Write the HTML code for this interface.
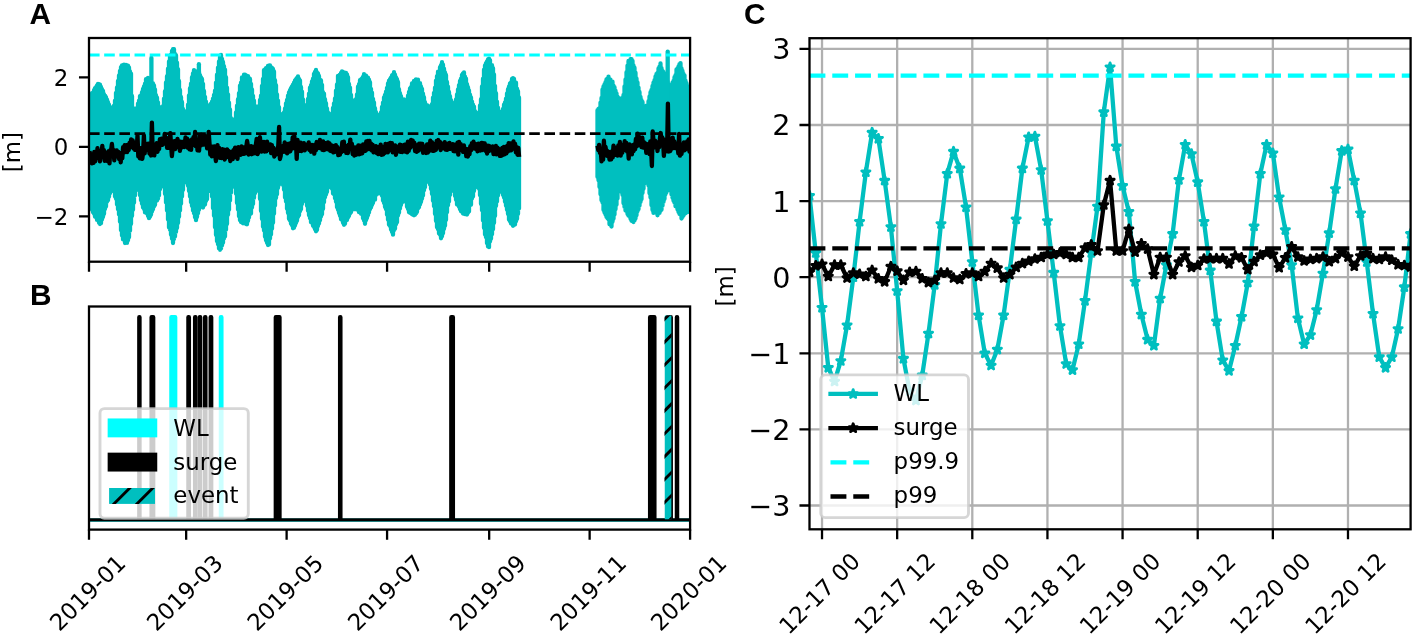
<!DOCTYPE html>
<html lang="en"><head><meta charset="utf-8"><title>Water level and surge</title>
<style>html,body{margin:0;padding:0;background:#fff}svg{display:block;will-change:transform}</style></head>
<body>
<svg width="1417" height="636" viewBox="0 0 1417 636">
<rect width="1417" height="636" fill="#fff"/>
<defs>
<clipPath id="ca"><rect x="89" y="38" width="601.1" height="223.7"/></clipPath>
</defs>
<g clip-path="url(#ca)">
<path d="M89,98.35V208.59M90,95.72V206.41M91,95V207.1M92,93.11V209.81M93,92.77V212.37M94,90.17V213.66M95,88.04V216.65M96,87.08V217.38M97,85.47V219.92M98,84V219.1M99,84.27V222.85M100,84.69V224.12M101,86.98V223.19M102,89.24V219.6M103,90.85V217.04M104,94.25V213.91M105,95.56V209.05M106,97.03V206.56M107,99.61V201.79M108,102.15V200.14M109,104.67V196.85M110,106.94V193.29M111,109.11V191.53M112,109.17V188.88M113,109.99V190.46M114,105.64V191M115,100.54V196.5M116,92.86V198.81M117,87.51V204.56M118,80.88V209.36M119,75.5V214.41M120,70.8V221.71M121,67.11V230.13M122,65.48V235.56M123,66.25V239.46M124,64.75V239.04M125,66.71V243.03M126,64.92V242.17M127,65.84V242.92M128,65.74V240.33M129,67.51V237.27M130,71.38V230.66M131,73.6V224.09M132,95.9V215.92M133,108.26V209.74M134,110V202.66M135,110.78V195.46M136,108.5V190.08M137,108.25V186.5M138,103.57V187.42M139,100.56V190.37M140,96.08V195.31M141,95.39V200.19M142,92.21V203.77M143,88.88V207.5M144,86.3V209.04M145,83.74V212.42M146,79.19V211.27M147,78.92V213.38M148,77.95V215.94M149,80.18V218.21M150,79.01V216.66M151,82.66V214.77M152,83.74V211.52M153,83.39V209.34M154,85.51V206.39M155,89.43V204.89M156,95.15V200.33M157,97.7V200.61M158,102.33V198.66M159,106.59V195.52M160,108.28V189.27M161,110.63V185.67M162,107.8V181.97M163,106.09V182.02M164,98.55V186.95M165,91.19V193.96M166,82.42V202.42M167,76.22V210.55M168,68.75V219.55M169,61.38V227.44M170,56.25V229.77M171,54.68V234.74M172,51.02V238.7M173,49.27V242.98M174,49.23V239.1M175,53.94V236.46M176,55.23V231.88M177,62.68V228.08M178,69.04V223.08M179,80.94V216.83M180,89.88V210.43M181,96.94V203.64M182,102V196.45M183,109.01V189.91M184,111.9V183.11M185,115.46V180.88M186,114.89V179.4M187,111.01V182.14M188,104.66V185.75M189,95.29V191.07M190,88.24V196.59M191,83.72V202.13M192,77.17V205.95M193,73.37V210.39M194,70.07V213.37M195,71.87V217.36M196,71.98V220.15M197,71.93V217.05M198,70.94V213.25M199,71.65V209.66M200,75.03V206.18M201,77.37V206.48M202,78.92V206.48M203,83.87V207.54M204,90.88V205.29M205,96.86V204.49M206,101.76V200.95M207,106.09V199.25M208,107.76V191.35M209,108.24V189.44M210,104.98V186.82M211,103.72V191.15M212,101.76V196.56M213,98.56V208.16M214,94.99V215.86M215,90.64V227.37M216,82.61V235.01M217,74.67V241.15M218,67.58V244.35M219,61.51V248.45M220,57.05V249.78M221,55.01V248.48M222,58.87V245.42M223,62.01V242.68M224,66.13V238.46M225,69.58V236.48M226,77.19V229.72M227,87.68V224.11M228,94.31V214.83M229,102.74V209.66M230,109.38V200.45M231,118.24V192.67M232,120.09V186.72M233,123.35V183.81M234,121.33V183.49M235,118.98V187.15M236,112.5V193.7M237,105.77V202.98M238,99.2V209.52M239,93.07V216.35M240,85.59V220.18M241,82.74V222.01M242,77.37V221.64M243,77.97V223.29M244,74.74V222.87M245,74.67V223.38M246,75.5V223.98M247,77.07V224.29M248,76.05V220.96M249,78.22V217.56M250,78.92V214.14M251,83.82V213.6M252,89.49V207.6M253,95.81V203.96M254,100.74V197.88M255,105.81V193.16M256,106.83V186.88M257,108.39V187.22M258,107.44V185.31M259,105.95V191.3M260,99.91V199.02M261,95.76V211.12M262,85.78V218.98M263,78.97V226.7M264,70.07V230.49M265,69.46V236.87M266,68.12V240.31M267,67.53V242.82M268,65.86V245M269,65.75V244.53M270,65.51V238.52M271,67.18V234.5M272,67.85V228.69M273,68.88V222.86M274,71.47V213.67M275,80.15V205.5M276,85.13V198.03M277,94.38V194.33M278,100.6V187.97M279,107.1V184.77M280,113.66V183.04M281,116.26V181.41M282,116.32V180.69M283,116.04V185.01M284,112.51V189.65M285,108.38V197.51M286,103.33V201.54M287,99.93V208.73M288,95.71V213M289,92.32V218.89M290,90.17V220.52M291,88.04V223.65M292,86.31V225.24M293,84.71V228.33M294,82.64V227.84M295,80.38V225.53M296,79.18V222.95M297,77.79V220.77M298,76.41V216.95M299,78.84V215.24M300,80.41V211.22M301,86.98V209.13M302,91.7V204.11M303,99.29V201.47M304,104.86V199.13M305,107.5V199.73M306,106.77V200.56M307,105.02V205.85M308,98.99V210.66M309,93.58V215.34M310,87.56V218.18M311,85.19V222.32M312,81.34V222.79M313,78.67V225.78M314,73.84V227.1M315,71.79V229.13M316,69.92V231.35M317,72.31V229.89M318,73.48V226.11M319,75.89V223.46M320,79.67V220.31M321,80.5V216.51M322,84.85V214.35M323,92.23V208.92M324,93.7V202.13M325,99.21V197.3M326,103.13V194.49M327,108.52V191.93M328,112.46V187.84M329,117.7V185.53M330,117.1V184.7M331,117.29V186.62M332,113.32V188.74M333,108.01V193.51M334,103.35V194.28M335,98.48V198.3M336,90.56V201.82M337,84.51V207.13M338,75.85V209.85M339,77.04V213.05M340,74.56V215.79M341,72.95V219.23M342,71.42V219.95M343,72.81V222.81M344,72.34V224.77M345,73.26V223.86M346,72.92V220.61M347,74.37V220.04M348,77.04V217.62M349,83.88V215.97M350,87.62V213.41M351,94.84V212.19M352,99.93V209.17M353,104.5V209.43M354,104.26V208.16M355,105.08V209.12M356,99.06V209.06M357,94.31V209.5M358,86.71V209.01M359,84.26V212.13M360,80.13V211.66M361,79.33V213.87M362,78.33V214.09M363,76.99V218.33M364,74.17V220.53M365,75.08V223.73M366,75.6V220.2M367,77.2V217.99M368,77.71V215.19M369,79.77V212.39M370,82.22V209.14M371,88.79V207.4M372,92.7V204.91M373,98.79V202.93M374,102.43V199.35M375,108.27V199.64M376,112.15V194.89M377,115.52V192.83M378,116.06V193.57M379,116.93V193.39M380,114.38V192.78M381,112.41V193.21M382,106.9V195.66M383,102.59V200.58M384,97.42V203.09M385,94.78V207.04M386,91.69V209.17M387,87.79V214.67M388,83.43V219.64M389,80.68V224.64M390,79.21V226.09M391,77.53V229.59M392,75.52V231.93M393,74.54V234.65M394,72.19V230.21M395,74.71V228.75M396,77.32V224.23M397,79.12V222.37M398,81.96V215.49M399,89.27V212.76M400,93.16V208.62M401,96.12V205.08M402,99.16V202.39M403,101.5V201.39M404,99.47V199.97M405,101.34V200.86M406,100.35V201.92M407,100.34V206.82M408,95.68V209.02M409,91.99V212.17M410,88.47V212.92M411,87.1V213.28M412,83.47V214.23M413,82.96V214.81M414,80.97V215.24M415,80.97V214.81M416,79.45V213.45M417,80.79V212.1M418,79.68V208.39M419,82.78V207.16M420,83.07V204.47M421,86.51V202.12M422,88.82V198.73M423,93.69V195.57M424,97.21V190.23M425,102.21V187.22M426,105.31V181.3M427,105.07V181.74M428,105.97V179.55M429,109.32V181.11M430,108.81V184.49M431,108.15V189M432,104.08V194.11M433,97.55V200.79M434,92.87V206.15M435,87.75V214.01M436,80.62V221.04M437,76.07V227.28M438,71.76V229.21M439,71.91V233.48M440,67.14V234.66M441,65.14V238.24M442,62.19V236.37M443,64.63V233.27M444,68.66V228.9M445,72.44V225.79M446,74.94V219.91M447,82V212.16M448,86.71V205.31M449,91.98V201.52M450,96.14V194.89M451,100.08V190.84M452,102.29V188.87M453,104.39V190.87M454,106.24V189.66M455,103.86V195.96M456,99.48V199.87M457,94.45V204.52M458,89.36V204.6M459,85.11V206.7M460,80.95V209.15M461,78.62V211.22M462,74.81V212.01M463,73.28V213.58M464,72.49V213.2M465,76.54V214.22M466,78.71V213.79M467,84.12V214.59M468,87.26V212.78M469,90.39V211.43M470,94.7V205.11M471,97.52V204.83M472,101.61V198.54M473,104.72V196.45M474,106.61V191.08M475,111.03V187.78M476,113.12V184.27M477,115.26V183.43M478,115.03V183.22M479,112.51V188.75M480,105.4V195.16M481,99.22V204.12M482,86.52V210.29M483,78.76V220.42M484,69.75V227.91M485,65.41V234.5M486,63.1V237.16M487,61.44V243.19M488,59.47V246.55M489,58.64V247.16M490,60.1V241.5M491,65.25V238.79M492,65.26V234.29M493,68.07V229.35M494,74.45V222.88M495,85.86V215.93M496,93.25V205.9M497,101.64V201.62M498,107.66V195.57M499,111.34V191.43M500,112.25V191.38M501,112.24V190.95M502,111.4V192.35M503,108.83V194.94M504,104.76V197.6M505,102.28V201.8M506,98.58V205.87M507,93.41V209.83M508,89.27V214.05M509,86.43V219.7M510,83.31V221.3M511,82.46V223.58M512,78.98V223.86M513,78.1V225.73M514,78.82V223.23M515,82.15V224.54M516,82.65V221.32M517,88.6V219.04M518,91.15V214.12M519,97.5V208.43" fill="none" stroke="#00bfbf" stroke-width="4.3" stroke-linecap="round"/>
<path d="M597.5,110.2V177.08M598.5,108.89V180.29M599.5,108.23V186.97M600.5,102.56V194.37M601.5,97.94V200.21M602.5,89.47V202.56M603.5,86.42V209.91M604.5,84.41V212.55M605.5,82.17V214.48M606.5,79.31V217.08M607.5,78.58V218.35M608.5,76.69V219.62M609.5,79.12V224.36M610.5,79.71V225.01M611.5,82V226.53M612.5,81.69V221.74M613.5,85.67V218.86M614.5,87.16V214.5M615.5,90.54V209.15M616.5,93.28V204.71M617.5,96.75V198.55M618.5,97.85V189.94M619.5,100.35V189.62M620.5,99.02V188.75M621.5,99.82V191.97M622.5,97.9V195.07M623.5,94.98V203.23M624.5,86.42V206.92M625.5,79.48V210.62M626.5,72.13V210.46M627.5,65.6V213.98M628.5,60.99V215.64M629.5,60.99V216.18M630.5,59.27V218.75M631.5,59.04V220.8M632.5,60.79V219.25M633.5,65.5V222.08M634.5,67.67V220.5M635.5,72.75V218.62M636.5,78.5V215.34M637.5,82.42V211.32M638.5,87.54V209.18M639.5,91.94V205.7M640.5,96.79V202M641.5,100.21V199.16M642.5,101.94V192.89M643.5,107.23V188.86M644.5,106.86V183.61M645.5,107.08V181.54M646.5,105.71V180.45M647.5,106.76V182.38M648.5,101.21V185.45M649.5,96.46V193.27M650.5,92.15V197.54M651.5,89.78V205.19M652.5,85.95V210.05M653.5,82.6V212.95M654.5,80.13V210.71M655.5,76.47V212.46M656.5,73.93V212.55M657.5,72.91V215.31M658.5,68.46V212.9M659.5,66.54V212.96M660.5,63.43V210.65M661.5,68.11V209.74M662.5,70.82V205.68M663.5,71.99V201.9M664.5,73.34V199.09M665.5,77.25V194.37M666.5,78.28V192.36M667.5,81.63V190.34M668.5,84.32V189M669.5,85.72V190.21M670.5,86.23V189.68M671.5,85.44V194.45M672.5,82.72V197.79M673.5,80.85V200.87M674.5,77.22V202.63M675.5,75.23V206.32M676.5,69.4V207.07M677.5,68.46V209.45M678.5,66.46V211.93M679.5,64.06V214.12M680.5,63.08V214.19M681.5,68.33V218.48M682.5,70.88V216.91M683.5,73.94V215.46M684.5,75.35V214.11M685.5,80.7V213.28M686.5,83.26V212.1M687.5,86.21V212.19M688.5,87.91V210.51M689.5,91.35V210.75M690.5,92.12V209.71M691.5,94.87V209.74" fill="none" stroke="#00bfbf" stroke-width="4.3" stroke-linecap="round"/>
<path d="M151.4,100 V57.9" stroke="#00bfbf" stroke-width="4.3" stroke-linecap="round" fill="none"/>
<path d="M198.9,100 V64.2" stroke="#00bfbf" stroke-width="4.3" stroke-linecap="round" fill="none"/>
<path d="M667.7,100 V51.6" stroke="#00bfbf" stroke-width="4.3" stroke-linecap="round" fill="none"/>
<polyline points="89.5,151.13 90.3,156.68 91.1,154.07 91.9,163.32 92.7,154.14 93.5,162.86 94.3,151.99 95.1,161.43 95.9,154.19 96.7,156.87 97.5,148.09 98.3,157.94 99.1,151.8 99.9,161.29 100.7,151.11 101.5,156.54 102.3,145.88 103.1,157.65 103.9,150.1 104.7,160.78 105.5,152.96 106.3,157.61 107.1,152.51 107.9,161.2 108.7,151.23 109.5,163.34 110.3,150.18 111.1,150.43 111.9,143.9 112.7,152.49 113.5,149.97 114.3,160.34 115.1,150.67 115.9,154.92 116.7,150.34 117.5,156.46 118.3,151.97 119.1,159.07 119.9,154.84 120.7,162.28 121.5,152.97 122.3,158.45 123.1,147.21 123.9,152.69 124.7,145.19 125.5,150.94 126.3,145.21 127.1,152.12 127.9,145.73 128.7,150.07 129.5,142.91 130.3,147.22 131.1,139.37 131.9,146.32 132.7,140.35 133.5,148.42 134.3,142.67 135.1,149.89 135.9,143.92 136.7,149.31 137.5,135.31 138.3,156.53 139.1,151.65 139.9,158.34 140.7,148.05 141.5,153.59 142.3,158.83 143.1,152.22 143.9,135.49 144.7,153.24 145.5,144.29 146.3,149.29 147.1,143.84 147.9,149.95 148.7,143.75 149.5,153.69 150.3,149.16 151.1,155.48 151.9,122.6 152.7,151.72 153.5,145.96 154.3,155.44 155.1,146.74 155.9,151.31 156.7,143.12 157.5,151.88 158.3,144.23 159.1,149.13 159.9,139.07 160.7,145.32 161.5,138.62 162.3,144.83 163.1,139.36 163.9,143.53 164.7,133.95 165.5,143.64 166.3,137.97 167.1,147.94 167.9,140.43 168.7,147.85 169.5,143.16 170.3,133.26 171.1,145.33 171.9,156.13 172.7,147.3 173.5,149.41 174.3,141.25 175.1,149.17 175.9,142 176.7,147.09 177.5,138.9 178.3,145.46 179.1,142.1 179.9,150.88 180.7,141.67 181.5,147.54 182.3,142.48 183.1,147 183.9,141.48 184.7,146.97 185.5,137.31 186.3,146.31 187.1,138.65 187.9,147.72 188.7,142.13 189.5,149.23 190.3,140.29 191.1,149.9 191.9,139.49 192.7,144.32 193.5,137.25 194.3,144.93 195.1,132 195.9,146.41 196.7,141.54 197.5,150.4 198.3,143.29 199.1,150.56 199.9,135.3 200.7,145.61 201.5,134.77 202.3,142.12 203.1,136.67 203.9,144.69 204.7,136 205.5,144.46 206.3,138.15 207.1,148.25 207.9,143.18 208.7,132 209.5,143.36 210.3,154.65 211.1,149.18 211.9,156.29 212.7,146.74 213.5,154.1 214.3,146.43 215.1,154.72 215.9,161.02 216.7,153.62 217.5,145.04 218.3,153.35 219.1,147.93 219.9,157.84 220.7,150.62 221.5,158.1 222.3,149.17 223.1,156.98 223.9,149.72 224.7,159.5 225.5,154.16 226.3,157.38 227.1,149.3 227.9,153.08 228.7,150.95 229.5,153.97 230.3,161 231.1,154.49 231.9,151.6 232.7,159.2 233.5,150.19 234.3,152.35 235.1,147.69 235.9,157.16 236.7,147.98 237.5,158.81 238.3,147.08 239.1,154.24 239.9,148.39 240.7,154.81 241.5,146.3 242.3,153.76 243.1,148.64 243.9,153.92 244.7,147.21 245.5,153.45 246.3,146.84 247.1,140.97 247.9,146.13 248.7,154.56 249.5,147.55 250.3,152.62 251.1,146.12 251.9,154.23 252.7,146.94 253.5,153.27 254.3,146.54 255.1,153.24 255.9,144.65 256.7,138.82 257.5,154.22 258.3,152.06 259.1,146.54 259.9,137.17 260.7,143.84 261.5,151.6 262.3,142.24 263.1,150.02 263.9,141.91 264.7,151.52 265.5,143.93 266.3,151.42 267.1,141.69 267.9,147.52 268.7,144.29 269.5,150.02 270.3,144.37 271.1,153.12 271.9,145.15 272.7,153.44 273.5,147.91 274.3,156.51 275.1,149.91 275.9,154.58 276.7,149.42 277.5,152.38 278.3,145.34 279.1,127 279.9,159 280.7,155.94 281.5,146.62 282.3,151.4 283.1,145.95 283.9,151.75 284.7,142.48 285.5,148.08 286.3,144.24 287.1,153.39 287.9,144.01 288.7,151.94 289.5,143.7 290.3,151.37 291.1,142.81 291.9,148.85 292.7,137.4 293.5,148.11 294.3,135.57 295.1,145.84 295.9,141.15 296.7,158.81 297.5,139.82 298.3,148.91 299.1,143.18 299.9,150.87 300.7,142.55 301.5,151.08 302.3,144.32 303.1,149.16 303.9,143.22 304.7,150.38 305.5,144.94 306.3,148.77 307.1,144.73 307.9,146.68 308.7,142.44 309.5,149.94 310.3,146.42 311.1,151.71 311.9,144.85 312.7,148.96 313.5,145.58 314.3,153.67 315.1,144.55 315.9,150.27 316.7,142.02 317.5,146.88 318.3,142.4 319.1,148.06 319.9,139.9 320.7,146.84 321.5,142.15 322.3,149.73 323.1,141.44 323.9,150.18 324.7,142.91 325.5,149.49 326.3,145.06 327.1,147.9 327.9,142.34 328.7,149.64 329.5,143.4 330.3,150.82 331.1,145.06 331.9,151.3 332.7,145.98 333.5,152.37 334.3,146.01 335.1,151.82 335.9,145.24 336.7,151.76 337.5,147.24 338.3,155.21 339.1,149.3 339.9,154.71 340.7,148.7 341.5,152.19 342.3,142.23 343.1,149.87 343.9,141.72 344.7,151.16 345.5,145.91 346.3,152.95 347.1,146.98 347.9,153.08 348.7,144.72 349.5,147.85 350.3,139.54 351.1,149.63 351.9,143.76 352.7,154.05 353.5,148.11 354.3,155.58 355.1,147.49 355.9,154.83 356.7,149.1 357.5,152.8 358.3,145.37 359.1,154.31 359.9,145.58 360.7,153.84 361.5,145.84 362.3,153.33 363.1,144.44 363.9,148.7 364.7,145 365.5,150.89 366.3,141.39 367.1,149.53 367.9,140.9 368.7,147.1 369.5,140.92 370.3,149.31 371.1,143.72 371.9,150.38 372.7,144.96 373.5,152.39 374.3,146.95 375.1,151.02 375.9,146.21 376.7,152.9 377.5,147.24 378.3,154.18 379.1,148.41 379.9,152.51 380.7,144.55 381.5,154.79 382.3,149.12 383.1,154.48 383.9,147.01 384.7,153.13 385.5,143.91 386.3,149.68 387.1,147.75 387.9,152.33 388.7,143.75 389.5,150.34 390.3,142.93 391.1,149.6 391.9,143.17 392.7,152.28 393.5,146.28 394.3,151.57 395.1,145.46 395.9,154.87 396.7,148.04 397.5,151.69 398.3,146.43 399.1,151.22 399.9,144.69 400.7,151.93 401.5,145.17 402.3,151.99 403.1,146.11 403.9,150.29 404.7,144.56 405.5,151.69 406.3,144.31 407.1,152.41 407.9,141.74 408.7,150.93 409.5,144.08 410.3,147.69 411.1,139.91 411.9,144.67 412.7,140.66 413.5,146.11 414.3,142.63 415.1,150.98 415.9,147.24 416.7,151.79 417.5,145.09 418.3,150.86 419.1,143.69 419.9,149.52 420.7,143.7 421.5,148.52 422.3,143.89 423.1,152.84 423.9,146.28 424.7,151.47 425.5,146.48 426.3,152.99 427.1,144.31 427.9,152.51 428.7,144.04 429.5,150.9 430.3,140.76 431.1,147.76 431.9,142.02 432.7,150.93 433.5,144.01 434.3,150.73 435.1,144.54 435.9,149.79 436.7,140.97 437.5,147.56 438.3,140.02 439.1,147.26 439.9,141.76 440.7,150.02 441.5,143.65 442.3,148.22 443.1,143.48 443.9,148.36 444.7,142.2 445.5,149.57 446.3,144.71 447.1,149.85 447.9,143.67 448.7,148.05 449.5,142.82 450.3,148.92 451.1,144.62 451.9,148.66 452.7,144.08 453.5,151.01 454.3,144.58 455.1,151.26 455.9,145.06 456.7,149.92 457.5,142.78 458.3,154.6 459.1,141.95 459.9,147.65 460.7,144.19 461.5,149.83 462.3,146.06 463.1,151.89 463.9,145.3 464.7,150.75 465.5,148.65 466.3,156.21 467.1,149.08 467.9,156.55 468.7,150.04 469.5,154.17 470.3,146.18 471.1,150.17 471.9,143.28 472.7,148.72 473.5,141.73 474.3,147.5 475.1,143.82 475.9,149.02 476.7,144.53 477.5,151.33 478.3,143.72 479.1,150.52 479.9,143.99 480.7,150.48 481.5,142.87 482.3,150.13 483.1,143.02 483.9,147.68 484.7,143.36 485.5,150.84 486.3,145.81 487.1,153.62 487.9,145.57 488.7,151.14 489.5,146 490.3,148.99 491.1,147.17 491.9,150.36 492.7,146.4 493.5,154.01 494.3,147.86 495.1,154.04 495.9,145.86 496.7,154.37 497.5,147.59 498.3,153.19 499.1,149.22 499.9,155.91 500.7,150.09 501.5,155.71 502.3,147.86 503.1,154.86 503.9,146.85 504.7,154.3 505.5,148.54 506.3,153.45 507.1,145.98 507.9,151.54 508.7,143.04 509.5,150.02 510.3,143.34 511.1,150.4 511.9,144.74 512.7,148.64 513.5,141.43 514.3,148.4 515.1,143.93 515.9,152.23 516.7,147.19 517.5,154.47 518.3,147.84 519.1,156.84" fill="none" stroke="#000" stroke-width="4.3" stroke-linejoin="round" stroke-linecap="butt"/>
<polyline points="597.5,145.54 598.3,150.08 599.1,144.92 599.9,152.8 600.7,149.09 601.5,161.37 602.3,151.16 603.1,159.66 603.9,140.75 604.7,155.48 605.5,146.83 606.3,152.36 607.1,150.67 607.9,156.15 608.7,151.98 609.5,159.53 610.3,152.29 611.1,159.48 611.9,151.36 612.7,157.45 613.5,145.67 614.3,154.93 615.1,150.95 615.9,154.71 616.7,147.64 617.5,155.58 618.3,145.39 619.1,153.85 619.9,142.02 620.7,155.69 621.5,145.81 622.3,152.8 623.1,144.83 623.9,150.04 624.7,141.2 625.5,148.58 626.3,142.83 627.1,151.44 627.9,146.82 628.7,158.55 629.5,144.47 630.3,153.67 631.1,146.33 631.9,154.28 632.7,145.1 633.5,151.23 634.3,144.46 635.1,149.36 635.9,138.86 636.7,146.45 637.5,133.54 638.3,135.12 639.1,137.45 639.9,145.21 640.7,137.95 641.5,147.13 642.3,137.63 643.1,147.49 643.9,142.23 644.7,147.89 645.5,143.46 646.3,152.91 647.1,144.05 647.9,151.29 648.7,147.15 649.5,154.02 650.3,141.43 651.1,150.25 651.9,166 652.7,131.5 653.5,140.71 654.3,145.53 655.1,140.71 655.9,147.47 656.7,142.05 657.5,150.97 658.3,143.09 659.1,147.41 659.9,138.37 660.7,133.03 661.5,143.27 662.3,137.49 663.1,142.2 663.9,155.86 664.7,139.83 665.5,150.62 666.3,142.46 667.1,151.39 667.9,103.6 668.7,151.52 669.5,143.65 670.3,150.99 671.1,144.19 671.9,148.75 672.7,137.64 673.5,147.55 674.3,141.34 675.1,148.02 675.9,144.39 676.7,148.36 677.5,144.78 678.3,153.38 679.1,133.87 679.9,155.72 680.7,145.13 681.5,154.06 682.3,147.07 683.1,148.59 683.9,142.34 684.7,150.32 685.5,143.76 686.3,148.92 687.1,141.52 687.9,146.92 688.7,139.29 689.5,151.5 690.3,141.38 691.1,145.56 691.9,138.59" fill="none" stroke="#000" stroke-width="4.3" stroke-linejoin="round" stroke-linecap="butt"/>
<path d="M89,55 H690.1" stroke="#00ffff" stroke-width="2.87" stroke-dasharray="10.6 4.58" fill="none"/>
<path d="M89,133.6 H690.1" stroke="#000" stroke-width="2.87" stroke-dasharray="10.6 4.58" fill="none"/>
</g>
<path d="M89,261.7 v10.03 M186.16,261.7 v10.03 M286.62,261.7 v10.03 M387.08,261.7 v10.03 M489.18,261.7 v10.03 M589.64,261.7 v10.03 M690.1,261.7 v10.03 M89,77.3 h-10.03 M89,146.8 h-10.03 M89,216.3 h-10.03" stroke="#000" stroke-width="2.29" fill="none"/>
<rect x="89" y="38" width="601.1" height="223.7" fill="none" stroke="#000" stroke-width="2.29" stroke-linejoin="miter"/>
<text x="68.34" y="85.7" font-family='"DejaVu Sans", "Liberation Sans", sans-serif' font-size="22.92" text-anchor="end">2</text>
<text x="68.34" y="155.2" font-family='"DejaVu Sans", "Liberation Sans", sans-serif' font-size="22.92" text-anchor="end">0</text>
<text x="68.34" y="224.7" font-family='"DejaVu Sans", "Liberation Sans", sans-serif' font-size="22.92" text-anchor="end">−2</text>
<text transform="translate(20.4,152.1) rotate(-90)" font-family='"DejaVu Sans", "Liberation Sans", sans-serif' font-size="22.92" text-anchor="middle">[m]</text>
<text x="29.6" y="23.8" font-family='"Liberation Sans", "DejaVu Sans", sans-serif' font-size="29.8" font-weight="bold">A</text>
<clipPath id="cb"><rect x="89" y="306.5" width="601.1" height="223.1"/></clipPath>
<g clip-path="url(#cb)">
<path d="M89,520.2 H690.1" stroke="#00ffff" stroke-width="3.3"/>
<path d="M171.4,519.6 V317.2 H175.2 V519.6" fill="#00ffff" stroke="#00ffff" stroke-width="4.3" stroke-linejoin="round"/>
<path d="M220.9,519.6 V317.2 H221.4 V519.6" fill="#00ffff" stroke="#00ffff" stroke-width="4.3" stroke-linejoin="round"/>
<path d="M89,519.85 H690.1" stroke="#000" stroke-width="3.3"/>
<path d="M139.3,519.6 V317.2 H139.5 V519.6" fill="#000" stroke="#000" stroke-width="4.3" stroke-linejoin="round"/>
<path d="M151.6,519.6 V317.2 H153.2 V519.6" fill="#000" stroke="#000" stroke-width="4.3" stroke-linejoin="round"/>
<path d="M188.4,519.6 V317.2 H188.9 V519.6" fill="#000" stroke="#000" stroke-width="4.3" stroke-linejoin="round"/>
<path d="M195.1,519.6 V317.2 H195.5 V519.6" fill="#000" stroke="#000" stroke-width="4.3" stroke-linejoin="round"/>
<path d="M199.8,519.6 V317.2 H200.2 V519.6" fill="#000" stroke="#000" stroke-width="4.3" stroke-linejoin="round"/>
<path d="M205.1,519.6 V317.2 H205.4 V519.6" fill="#000" stroke="#000" stroke-width="4.3" stroke-linejoin="round"/>
<path d="M210.7,519.6 V317.2 H211.2 V519.6" fill="#000" stroke="#000" stroke-width="4.3" stroke-linejoin="round"/>
<path d="M275.8,519.6 V317.2 H279.5 V519.6" fill="#000" stroke="#000" stroke-width="4.3" stroke-linejoin="round"/>
<path d="M340.1,519.6 V317.2 H340.4 V519.6" fill="#000" stroke="#000" stroke-width="4.3" stroke-linejoin="round"/>
<path d="M451.3,519.6 V317.2 H452.9 V519.6" fill="#000" stroke="#000" stroke-width="4.3" stroke-linejoin="round"/>
<path d="M650.1,519.6 V317.2 H654.4 V519.6" fill="#000" stroke="#000" stroke-width="4.3" stroke-linejoin="round"/>
<path d="M670.6,519.6 V317.2 H670.8 V519.6" fill="#000" stroke="#000" stroke-width="4.3" stroke-linejoin="round"/>
<path d="M676.9,519.6 V317.2 H677.1 V519.6" fill="#000" stroke="#000" stroke-width="4.3" stroke-linejoin="round"/>
<clipPath id="ce"><rect x="664.5" y="315.3" width="7.1" height="204.3" rx="1.2"/></clipPath>
<g clip-path="url(#ce)"><rect x="664.5" y="315.3" width="7.1" height="204.3" fill="#00bfbf"/>
<path d="M656.05,327.7 L680.05,303.7 M656.05,350.6 L680.05,326.6 M656.05,373.5 L680.05,349.5 M656.05,396.4 L680.05,372.4 M656.05,419.3 L680.05,395.3 M656.05,442.2 L680.05,418.2 M656.05,465.1 L680.05,441.1 M656.05,488 L680.05,464 M656.05,510.9 L680.05,486.9 M656.05,533.8 L680.05,509.8" stroke="#000" stroke-width="2.87" fill="none"/></g>
</g>
<rect x="100" y="408.6" width="148.3" height="109.6" rx="4.4" fill="#fff" fill-opacity="0.8" stroke="#ccc" stroke-opacity="0.8" stroke-width="2.87"/>
<rect x="109.8" y="420.6" width="45.3" height="14.6" fill="#00ffff" stroke="#00ffff" stroke-width="4.3" stroke-linejoin="miter"/>
<rect x="109.8" y="454.8" width="45.3" height="14.6" fill="#000" stroke="#000" stroke-width="4.3" stroke-linejoin="miter"/>
<clipPath id="cl"><rect x="109.1" y="488" width="45.9" height="15.9"/></clipPath>
<g clip-path="url(#cl)"><rect x="109.1" y="488" width="45.9" height="15.9" fill="#00bfbf"/>
<path d="M111.8,506 l22,-22 M134.8,506 l22,-22 M88.8,506 l22,-22" stroke="#000" stroke-width="2.87"/></g>
<text x="173.3" y="435.7" font-family='"DejaVu Sans", "Liberation Sans", sans-serif' font-size="22.92">WL</text>
<text x="173.3" y="469.6" font-family='"DejaVu Sans", "Liberation Sans", sans-serif' font-size="22.92">surge</text>
<text x="173.3" y="503.4" font-family='"DejaVu Sans", "Liberation Sans", sans-serif' font-size="22.92">event</text>
<path d="M89,529.6 v10.03 M186.16,529.6 v10.03 M286.62,529.6 v10.03 M387.08,529.6 v10.03 M489.18,529.6 v10.03 M589.64,529.6 v10.03 M690.1,529.6 v10.03" stroke="#000" stroke-width="2.29" fill="none"/>
<rect x="89" y="306.5" width="601.1" height="223.1" fill="none" stroke="#000" stroke-width="2.29" stroke-linejoin="miter"/>
<text transform="translate(87.5,592.7) rotate(-45)" font-family='"DejaVu Sans", "Liberation Sans", sans-serif' font-size="22.92" text-anchor="middle" y="8.1">2019-01</text>
<text transform="translate(184.66,592.7) rotate(-45)" font-family='"DejaVu Sans", "Liberation Sans", sans-serif' font-size="22.92" text-anchor="middle" y="8.1">2019-03</text>
<text transform="translate(285.12,592.7) rotate(-45)" font-family='"DejaVu Sans", "Liberation Sans", sans-serif' font-size="22.92" text-anchor="middle" y="8.1">2019-05</text>
<text transform="translate(385.58,592.7) rotate(-45)" font-family='"DejaVu Sans", "Liberation Sans", sans-serif' font-size="22.92" text-anchor="middle" y="8.1">2019-07</text>
<text transform="translate(487.68,592.7) rotate(-45)" font-family='"DejaVu Sans", "Liberation Sans", sans-serif' font-size="22.92" text-anchor="middle" y="8.1">2019-09</text>
<text transform="translate(588.14,592.7) rotate(-45)" font-family='"DejaVu Sans", "Liberation Sans", sans-serif' font-size="22.92" text-anchor="middle" y="8.1">2019-11</text>
<text transform="translate(688.6,592.7) rotate(-45)" font-family='"DejaVu Sans", "Liberation Sans", sans-serif' font-size="22.92" text-anchor="middle" y="8.1">2020-01</text>
<text x="30.1" y="305.1" font-family='"Liberation Sans", "DejaVu Sans", sans-serif' font-size="29.8" font-weight="bold">B</text>
<defs>
<clipPath id="cc"><rect x="809.5" y="38.2" width="601.1" height="491.1"/></clipPath>
<path id="st" d="M0,-4.3 L0.96,-1.33 L4.09,-1.33 L1.56,0.51 L2.53,3.48 L0,1.64 L-2.53,3.48 L-1.56,0.51 L-4.09,-1.33 L-0.96,-1.33 Z" stroke-width="2.87" stroke-linejoin="round"/>
</defs>
<path d="M822.02,38.2 V529.3 M897.16,38.2 V529.3 M972.3,38.2 V529.3 M1047.44,38.2 V529.3 M1122.57,38.2 V529.3 M1197.71,38.2 V529.3 M1272.85,38.2 V529.3 M1347.99,38.2 V529.3 M809.5,505.5 H1410.6 M809.5,429.4 H1410.6 M809.5,353.3 H1410.6 M809.5,277.2 H1410.6 M809.5,201.1 H1410.6 M809.5,125 H1410.6 M809.5,48.9 H1410.6" stroke="#b0b0b0" stroke-width="2.29" fill="none"/>
<g clip-path="url(#cc)">
<polyline points="809.5,195.77 815.76,252.85 822.02,307.64 828.28,367.76 834.55,381.46 840.81,360.91 847.07,325.14 853.33,277.2 859.59,221.65 865.85,172.18 872.11,132.61 878.38,138.7 884.64,180.55 890.9,226.97 897.16,290.9 903.42,358.63 909.68,391.35 915.94,400.48 922.21,375.37 928.47,333.51 934.73,284.81 940.99,223.93 947.25,173.7 953.51,151.63 959.77,168.38 966.04,207.19 972.3,261.98 978.56,315.25 984.82,353.3 991.08,365.48 997.34,349.5 1003.61,315.25 1009.87,269.59 1016.13,219.36 1022.39,168.38 1028.65,137.18 1034.91,136.41 1041.17,169.9 1047.44,220.89 1053.7,272.63 1059.96,325.9 1066.22,363.95 1072.48,370.04 1078.74,344.17 1085,300.79 1091.27,252.85 1097.53,206.43 1103.79,112.06 1110.05,67.16 1116.31,146.31 1122.57,185.88 1128.83,211.75 1135.1,281.77 1141.36,314.49 1147.62,339.6 1153.88,345.69 1160.14,298.51 1166.4,265.02 1172.66,233.82 1178.93,179.79 1185.19,144.79 1191.45,153.92 1197.71,182.07 1203.97,221.65 1210.23,270.35 1216.49,321.34 1222.76,360.15 1229.02,370.8 1235.28,345.69 1241.54,316.77 1247.8,282.53 1254.06,226.21 1260.32,173.7 1266.59,144.79 1272.85,153.16 1279.11,197.29 1285.37,230.02 1291.63,265.02 1297.89,318.29 1304.16,344.17 1310.42,335.04 1316.68,309.92 1322.94,273.39 1329.2,233.06 1335.46,188.92 1341.72,150.87 1347.99,149.35 1354.25,180.55 1360.51,213.28 1366.77,261.98 1373.03,313.73 1379.29,357.11 1385.55,367.76 1391.82,357.11 1398.08,328.95 1404.34,287.09 1410.6,233.82" fill="none" stroke="#00bfbf" stroke-width="4.3" stroke-linejoin="round"/>
<g fill="#00bfbf" stroke="#00bfbf"><use href="#st" x="809.5" y="195.77"/><use href="#st" x="815.76" y="252.85"/><use href="#st" x="822.02" y="307.64"/><use href="#st" x="828.28" y="367.76"/><use href="#st" x="834.55" y="381.46"/><use href="#st" x="840.81" y="360.91"/><use href="#st" x="847.07" y="325.14"/><use href="#st" x="853.33" y="277.2"/><use href="#st" x="859.59" y="221.65"/><use href="#st" x="865.85" y="172.18"/><use href="#st" x="872.11" y="132.61"/><use href="#st" x="878.38" y="138.7"/><use href="#st" x="884.64" y="180.55"/><use href="#st" x="890.9" y="226.97"/><use href="#st" x="897.16" y="290.9"/><use href="#st" x="903.42" y="358.63"/><use href="#st" x="909.68" y="391.35"/><use href="#st" x="915.94" y="400.48"/><use href="#st" x="922.21" y="375.37"/><use href="#st" x="928.47" y="333.51"/><use href="#st" x="934.73" y="284.81"/><use href="#st" x="940.99" y="223.93"/><use href="#st" x="947.25" y="173.7"/><use href="#st" x="953.51" y="151.63"/><use href="#st" x="959.77" y="168.38"/><use href="#st" x="966.04" y="207.19"/><use href="#st" x="972.3" y="261.98"/><use href="#st" x="978.56" y="315.25"/><use href="#st" x="984.82" y="353.3"/><use href="#st" x="991.08" y="365.48"/><use href="#st" x="997.34" y="349.5"/><use href="#st" x="1003.61" y="315.25"/><use href="#st" x="1009.87" y="269.59"/><use href="#st" x="1016.13" y="219.36"/><use href="#st" x="1022.39" y="168.38"/><use href="#st" x="1028.65" y="137.18"/><use href="#st" x="1034.91" y="136.41"/><use href="#st" x="1041.17" y="169.9"/><use href="#st" x="1047.44" y="220.89"/><use href="#st" x="1053.7" y="272.63"/><use href="#st" x="1059.96" y="325.9"/><use href="#st" x="1066.22" y="363.95"/><use href="#st" x="1072.48" y="370.04"/><use href="#st" x="1078.74" y="344.17"/><use href="#st" x="1085" y="300.79"/><use href="#st" x="1091.27" y="252.85"/><use href="#st" x="1097.53" y="206.43"/><use href="#st" x="1103.79" y="112.06"/><use href="#st" x="1110.05" y="67.16"/><use href="#st" x="1116.31" y="146.31"/><use href="#st" x="1122.57" y="185.88"/><use href="#st" x="1128.83" y="211.75"/><use href="#st" x="1135.1" y="281.77"/><use href="#st" x="1141.36" y="314.49"/><use href="#st" x="1147.62" y="339.6"/><use href="#st" x="1153.88" y="345.69"/><use href="#st" x="1160.14" y="298.51"/><use href="#st" x="1166.4" y="265.02"/><use href="#st" x="1172.66" y="233.82"/><use href="#st" x="1178.93" y="179.79"/><use href="#st" x="1185.19" y="144.79"/><use href="#st" x="1191.45" y="153.92"/><use href="#st" x="1197.71" y="182.07"/><use href="#st" x="1203.97" y="221.65"/><use href="#st" x="1210.23" y="270.35"/><use href="#st" x="1216.49" y="321.34"/><use href="#st" x="1222.76" y="360.15"/><use href="#st" x="1229.02" y="370.8"/><use href="#st" x="1235.28" y="345.69"/><use href="#st" x="1241.54" y="316.77"/><use href="#st" x="1247.8" y="282.53"/><use href="#st" x="1254.06" y="226.21"/><use href="#st" x="1260.32" y="173.7"/><use href="#st" x="1266.59" y="144.79"/><use href="#st" x="1272.85" y="153.16"/><use href="#st" x="1279.11" y="197.29"/><use href="#st" x="1285.37" y="230.02"/><use href="#st" x="1291.63" y="265.02"/><use href="#st" x="1297.89" y="318.29"/><use href="#st" x="1304.16" y="344.17"/><use href="#st" x="1310.42" y="335.04"/><use href="#st" x="1316.68" y="309.92"/><use href="#st" x="1322.94" y="273.39"/><use href="#st" x="1329.2" y="233.06"/><use href="#st" x="1335.46" y="188.92"/><use href="#st" x="1341.72" y="150.87"/><use href="#st" x="1347.99" y="149.35"/><use href="#st" x="1354.25" y="180.55"/><use href="#st" x="1360.51" y="213.28"/><use href="#st" x="1366.77" y="261.98"/><use href="#st" x="1373.03" y="313.73"/><use href="#st" x="1379.29" y="357.11"/><use href="#st" x="1385.55" y="367.76"/><use href="#st" x="1391.82" y="357.11"/><use href="#st" x="1398.08" y="328.95"/><use href="#st" x="1404.34" y="287.09"/><use href="#st" x="1410.6" y="233.82"/></g>
<polyline points="809.5,272.25 815.76,265.78 822.02,264.26 828.28,276.44 834.55,265.02 840.81,265.02 847.07,277.96 853.33,273.01 859.59,274.16 865.85,276.44 872.11,270.35 878.38,278.72 884.64,281.77 890.9,266.55 897.16,271.11 903.42,280.24 909.68,272.25 915.94,271.49 922.21,278.72 928.47,282.53 934.73,280.24 940.99,273.01 947.25,273.01 953.51,277.96 959.77,279.48 966.04,273.78 972.3,273.01 978.56,276.44 984.82,271.49 991.08,263.5 997.34,268.07 1003.61,277.96 1009.87,274.54 1016.13,267.31 1022.39,263.5 1028.65,261.22 1034.91,258.94 1041.17,257.41 1047.44,254.37 1053.7,254.37 1059.96,252.85 1066.22,254.37 1072.48,257.41 1078.74,257.41 1085,247.9 1091.27,244.86 1097.53,250.95 1103.79,204.91 1110.05,180.55 1116.31,250.95 1122.57,250.95 1128.83,229.26 1135.1,252.09 1141.36,243.72 1147.62,249.04 1153.88,274.54 1160.14,257.41 1166.4,257.41 1172.66,274.54 1178.93,261.98 1185.19,255.89 1191.45,267.31 1197.71,265.4 1203.97,258.94 1210.23,258.56 1216.49,258.56 1222.76,258.56 1229.02,263.88 1235.28,255.89 1241.54,257.79 1247.8,269.59 1254.06,261.6 1260.32,255.13 1266.59,252.85 1272.85,254.37 1279.11,267.69 1285.37,257.79 1291.63,246.76 1297.89,257.03 1304.16,260.84 1310.42,259.32 1316.68,258.56 1322.94,257.03 1329.2,261.6 1335.46,258.56 1341.72,252.85 1347.99,257.03 1354.25,266.17 1360.51,255.89 1366.77,253.61 1373.03,258.56 1379.29,259.32 1385.55,257.03 1391.82,260.08 1398.08,264.64 1404.34,265.4 1410.6,266.93" fill="none" stroke="#000" stroke-width="4.3" stroke-linejoin="round"/>
<g fill="#000" stroke="#000"><use href="#st" x="809.5" y="272.25"/><use href="#st" x="815.76" y="265.78"/><use href="#st" x="822.02" y="264.26"/><use href="#st" x="828.28" y="276.44"/><use href="#st" x="834.55" y="265.02"/><use href="#st" x="840.81" y="265.02"/><use href="#st" x="847.07" y="277.96"/><use href="#st" x="853.33" y="273.01"/><use href="#st" x="859.59" y="274.16"/><use href="#st" x="865.85" y="276.44"/><use href="#st" x="872.11" y="270.35"/><use href="#st" x="878.38" y="278.72"/><use href="#st" x="884.64" y="281.77"/><use href="#st" x="890.9" y="266.55"/><use href="#st" x="897.16" y="271.11"/><use href="#st" x="903.42" y="280.24"/><use href="#st" x="909.68" y="272.25"/><use href="#st" x="915.94" y="271.49"/><use href="#st" x="922.21" y="278.72"/><use href="#st" x="928.47" y="282.53"/><use href="#st" x="934.73" y="280.24"/><use href="#st" x="940.99" y="273.01"/><use href="#st" x="947.25" y="273.01"/><use href="#st" x="953.51" y="277.96"/><use href="#st" x="959.77" y="279.48"/><use href="#st" x="966.04" y="273.78"/><use href="#st" x="972.3" y="273.01"/><use href="#st" x="978.56" y="276.44"/><use href="#st" x="984.82" y="271.49"/><use href="#st" x="991.08" y="263.5"/><use href="#st" x="997.34" y="268.07"/><use href="#st" x="1003.61" y="277.96"/><use href="#st" x="1009.87" y="274.54"/><use href="#st" x="1016.13" y="267.31"/><use href="#st" x="1022.39" y="263.5"/><use href="#st" x="1028.65" y="261.22"/><use href="#st" x="1034.91" y="258.94"/><use href="#st" x="1041.17" y="257.41"/><use href="#st" x="1047.44" y="254.37"/><use href="#st" x="1053.7" y="254.37"/><use href="#st" x="1059.96" y="252.85"/><use href="#st" x="1066.22" y="254.37"/><use href="#st" x="1072.48" y="257.41"/><use href="#st" x="1078.74" y="257.41"/><use href="#st" x="1085" y="247.9"/><use href="#st" x="1091.27" y="244.86"/><use href="#st" x="1097.53" y="250.95"/><use href="#st" x="1103.79" y="204.91"/><use href="#st" x="1110.05" y="180.55"/><use href="#st" x="1116.31" y="250.95"/><use href="#st" x="1122.57" y="250.95"/><use href="#st" x="1128.83" y="229.26"/><use href="#st" x="1135.1" y="252.09"/><use href="#st" x="1141.36" y="243.72"/><use href="#st" x="1147.62" y="249.04"/><use href="#st" x="1153.88" y="274.54"/><use href="#st" x="1160.14" y="257.41"/><use href="#st" x="1166.4" y="257.41"/><use href="#st" x="1172.66" y="274.54"/><use href="#st" x="1178.93" y="261.98"/><use href="#st" x="1185.19" y="255.89"/><use href="#st" x="1191.45" y="267.31"/><use href="#st" x="1197.71" y="265.4"/><use href="#st" x="1203.97" y="258.94"/><use href="#st" x="1210.23" y="258.56"/><use href="#st" x="1216.49" y="258.56"/><use href="#st" x="1222.76" y="258.56"/><use href="#st" x="1229.02" y="263.88"/><use href="#st" x="1235.28" y="255.89"/><use href="#st" x="1241.54" y="257.79"/><use href="#st" x="1247.8" y="269.59"/><use href="#st" x="1254.06" y="261.6"/><use href="#st" x="1260.32" y="255.13"/><use href="#st" x="1266.59" y="252.85"/><use href="#st" x="1272.85" y="254.37"/><use href="#st" x="1279.11" y="267.69"/><use href="#st" x="1285.37" y="257.79"/><use href="#st" x="1291.63" y="246.76"/><use href="#st" x="1297.89" y="257.03"/><use href="#st" x="1304.16" y="260.84"/><use href="#st" x="1310.42" y="259.32"/><use href="#st" x="1316.68" y="258.56"/><use href="#st" x="1322.94" y="257.03"/><use href="#st" x="1329.2" y="261.6"/><use href="#st" x="1335.46" y="258.56"/><use href="#st" x="1341.72" y="252.85"/><use href="#st" x="1347.99" y="257.03"/><use href="#st" x="1354.25" y="266.17"/><use href="#st" x="1360.51" y="255.89"/><use href="#st" x="1366.77" y="253.61"/><use href="#st" x="1373.03" y="258.56"/><use href="#st" x="1379.29" y="259.32"/><use href="#st" x="1385.55" y="257.03"/><use href="#st" x="1391.82" y="260.08"/><use href="#st" x="1398.08" y="264.64"/><use href="#st" x="1404.34" y="265.4"/><use href="#st" x="1410.6" y="266.93"/></g>
<path d="M809.5,75.7 H1410.6" stroke="#00ffff" stroke-width="4.3" stroke-dasharray="15.9 6.88" fill="none"/>
<path d="M809.5,248.3 H1410.6" stroke="#000" stroke-width="4.3" stroke-dasharray="15.9 6.88" fill="none"/>
</g>
<rect x="820.8" y="374.9" width="147.7" height="142.7" rx="4.4" fill="#fff" fill-opacity="0.8" stroke="#ccc" stroke-opacity="0.8" stroke-width="2.87"/>
<path d="M830.5,393.9 H875.8" stroke="#00bfbf" stroke-width="4.3" stroke-linecap="square"/>
<use href="#st" x="853.15" y="393.9" fill="#00bfbf" stroke="#00bfbf"/>
<path d="M830.5,428.1 H875.8" stroke="#000" stroke-width="4.3" stroke-linecap="square"/>
<use href="#st" x="853.15" y="428.1" fill="#000" stroke="#000"/>
<path d="M830.5,462.3 H875.8" stroke="#00ffff" stroke-width="4.3" stroke-dasharray="15.9 6.88"/>
<path d="M830.5,496.5 H875.8" stroke="#000" stroke-width="4.3" stroke-dasharray="15.9 6.88"/>
<text x="893.6" y="401.2" font-family='"DejaVu Sans", "Liberation Sans", sans-serif' font-size="22.92">WL</text>
<text x="893.6" y="435.2" font-family='"DejaVu Sans", "Liberation Sans", sans-serif' font-size="22.92">surge</text>
<text x="893.6" y="469.2" font-family='"DejaVu Sans", "Liberation Sans", sans-serif' font-size="22.92">p99.9</text>
<text x="893.6" y="503.2" font-family='"DejaVu Sans", "Liberation Sans", sans-serif' font-size="22.92">p99</text>
<path d="M822.02,529.3 v10.03 M897.16,529.3 v10.03 M972.3,529.3 v10.03 M1047.44,529.3 v10.03 M1122.57,529.3 v10.03 M1197.71,529.3 v10.03 M1272.85,529.3 v10.03 M1347.99,529.3 v10.03 M809.5,505.5 h-10.03 M809.5,429.4 h-10.03 M809.5,353.3 h-10.03 M809.5,277.2 h-10.03 M809.5,201.1 h-10.03 M809.5,125 h-10.03 M809.5,48.9 h-10.03" stroke="#000" stroke-width="2.29" fill="none"/>
<rect x="809.5" y="38.2" width="601.1" height="491.1" fill="none" stroke="#000" stroke-width="2.29" stroke-linejoin="miter"/>
<text x="790.44" y="515.9" font-family='"DejaVu Sans", "Liberation Sans", sans-serif' font-size="28.65" text-anchor="end">−3</text>
<text x="790.44" y="439.8" font-family='"DejaVu Sans", "Liberation Sans", sans-serif' font-size="28.65" text-anchor="end">−2</text>
<text x="790.44" y="363.7" font-family='"DejaVu Sans", "Liberation Sans", sans-serif' font-size="28.65" text-anchor="end">−1</text>
<text x="790.44" y="287.6" font-family='"DejaVu Sans", "Liberation Sans", sans-serif' font-size="28.65" text-anchor="end">0</text>
<text x="790.44" y="211.5" font-family='"DejaVu Sans", "Liberation Sans", sans-serif' font-size="28.65" text-anchor="end">1</text>
<text x="790.44" y="135.4" font-family='"DejaVu Sans", "Liberation Sans", sans-serif' font-size="28.65" text-anchor="end">2</text>
<text x="790.44" y="59.3" font-family='"DejaVu Sans", "Liberation Sans", sans-serif' font-size="28.65" text-anchor="end">3</text>
<text transform="translate(819.42,593.4) rotate(-45)" font-family='"DejaVu Sans", "Liberation Sans", sans-serif' font-size="22.92" text-anchor="middle" y="8.1">12-17 00</text>
<text transform="translate(894.56,593.4) rotate(-45)" font-family='"DejaVu Sans", "Liberation Sans", sans-serif' font-size="22.92" text-anchor="middle" y="8.1">12-17 12</text>
<text transform="translate(969.7,593.4) rotate(-45)" font-family='"DejaVu Sans", "Liberation Sans", sans-serif' font-size="22.92" text-anchor="middle" y="8.1">12-18 00</text>
<text transform="translate(1044.84,593.4) rotate(-45)" font-family='"DejaVu Sans", "Liberation Sans", sans-serif' font-size="22.92" text-anchor="middle" y="8.1">12-18 12</text>
<text transform="translate(1119.97,593.4) rotate(-45)" font-family='"DejaVu Sans", "Liberation Sans", sans-serif' font-size="22.92" text-anchor="middle" y="8.1">12-19 00</text>
<text transform="translate(1195.11,593.4) rotate(-45)" font-family='"DejaVu Sans", "Liberation Sans", sans-serif' font-size="22.92" text-anchor="middle" y="8.1">12-19 12</text>
<text transform="translate(1270.25,593.4) rotate(-45)" font-family='"DejaVu Sans", "Liberation Sans", sans-serif' font-size="22.92" text-anchor="middle" y="8.1">12-20 00</text>
<text transform="translate(1345.39,593.4) rotate(-45)" font-family='"DejaVu Sans", "Liberation Sans", sans-serif' font-size="22.92" text-anchor="middle" y="8.1">12-20 12</text>
<text transform="translate(733.2,286.4) rotate(-90)" font-family='"DejaVu Sans", "Liberation Sans", sans-serif' font-size="22.92" text-anchor="middle">[m]</text>
<text x="744" y="24.2" font-family='"Liberation Sans", "DejaVu Sans", sans-serif' font-size="29.8" font-weight="bold">C</text>
</svg>
</body></html>
